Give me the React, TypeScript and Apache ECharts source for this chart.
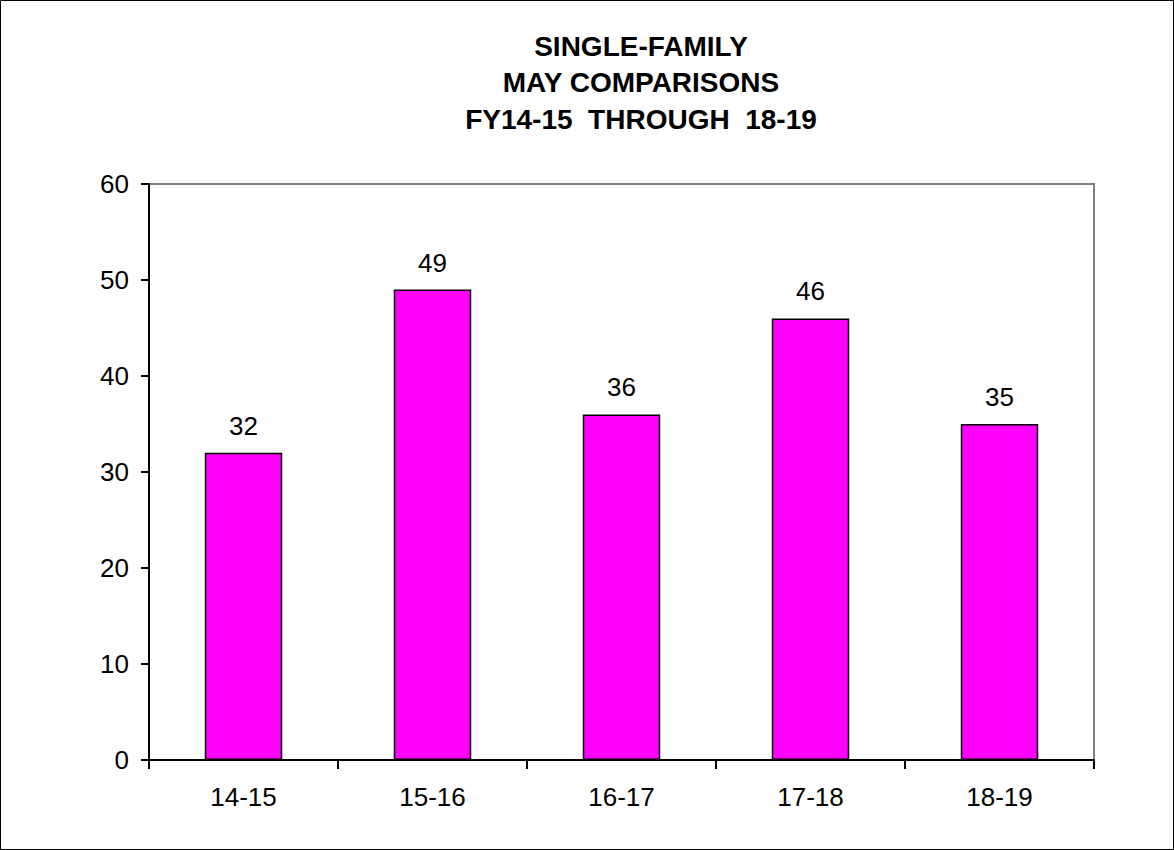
import React, { useEffect, useRef } from "react";
import * as echarts from "echarts";

const categories = ["14-15", "15-16", "16-17", "17-18", "18-19"];
const values = [32, 49, 36, 46, 35];
const titleLines = ["SINGLE-FAMILY", "MAY COMPARISONS", "FY14-15  THROUGH  18-19"];

const FONT = "Liberation Sans, Arial, sans-serif";

export default function App() {
  const ref = useRef<HTMLDivElement>(null);
  useEffect(() => {
    const chart = echarts.init(ref.current!, null, { renderer: "svg" });
    chart.setOption({
      animation: false,
      backgroundColor: "#ffffff",
      textStyle: { fontFamily: FONT },
      title: {
        text: titleLines.join("\n"),
        left: 636,
        top: 23,
        textAlign: "center",
        textStyle: {
          fontFamily: FONT,
          fontWeight: "bold",
          fontSize: 28,
          lineHeight: 36.5,
          color: "#000",
        },
      },
      graphic: [
        {
          type: "rect",
          shape: { x: 0.5, y: 0.5, width: 1173, height: 849 },
          style: { fill: "none", stroke: "#000", lineWidth: 1 },
          silent: true,
          z: 100,
        },
      ],
      grid: {
        left: 149,
        right: 80,
        top: 184,
        bottom: 90,
        show: true,
        borderColor: "#808080",
        borderWidth: 2,
        backgroundColor: "transparent",
      },
      xAxis: {
        type: "category",
        data: categories,
        axisLine: { lineStyle: { color: "#000", width: 2 } },
        axisTick: { show: true, length: 9, alignWithLabel: false, lineStyle: { color: "#000", width: 2 } },
        axisLabel: { color: "#000", fontSize: 26, margin: 24, fontFamily: FONT },
        splitLine: { show: false },
      },
      yAxis: {
        type: "value",
        min: 0,
        max: 60,
        interval: 10,
        axisLine: { show: true, lineStyle: { color: "#000", width: 2 } },
        axisTick: { show: true, length: 8, lineStyle: { color: "#000", width: 2 } },
        axisLabel: { color: "#000", fontSize: 26, margin: 20, fontFamily: FONT },
        splitLine: { show: false },
      },
      series: [
        {
          type: "bar",
          data: values,
          barWidth: "41%",
          itemStyle: { color: "#FF00FF", borderColor: "#000", borderWidth: 1.5 },
          label: {
            show: true,
            position: "top",
            distance: 14,
            color: "#000",
            fontSize: 26,
            fontFamily: FONT,
          },
        },
      ],
    });
    return () => chart.dispose();
  }, []);
  return (
    <div
      ref={ref}
      style={{ position: "fixed", left: 0, top: 0, width: 1174, height: 850 }}
    />
  );
}
